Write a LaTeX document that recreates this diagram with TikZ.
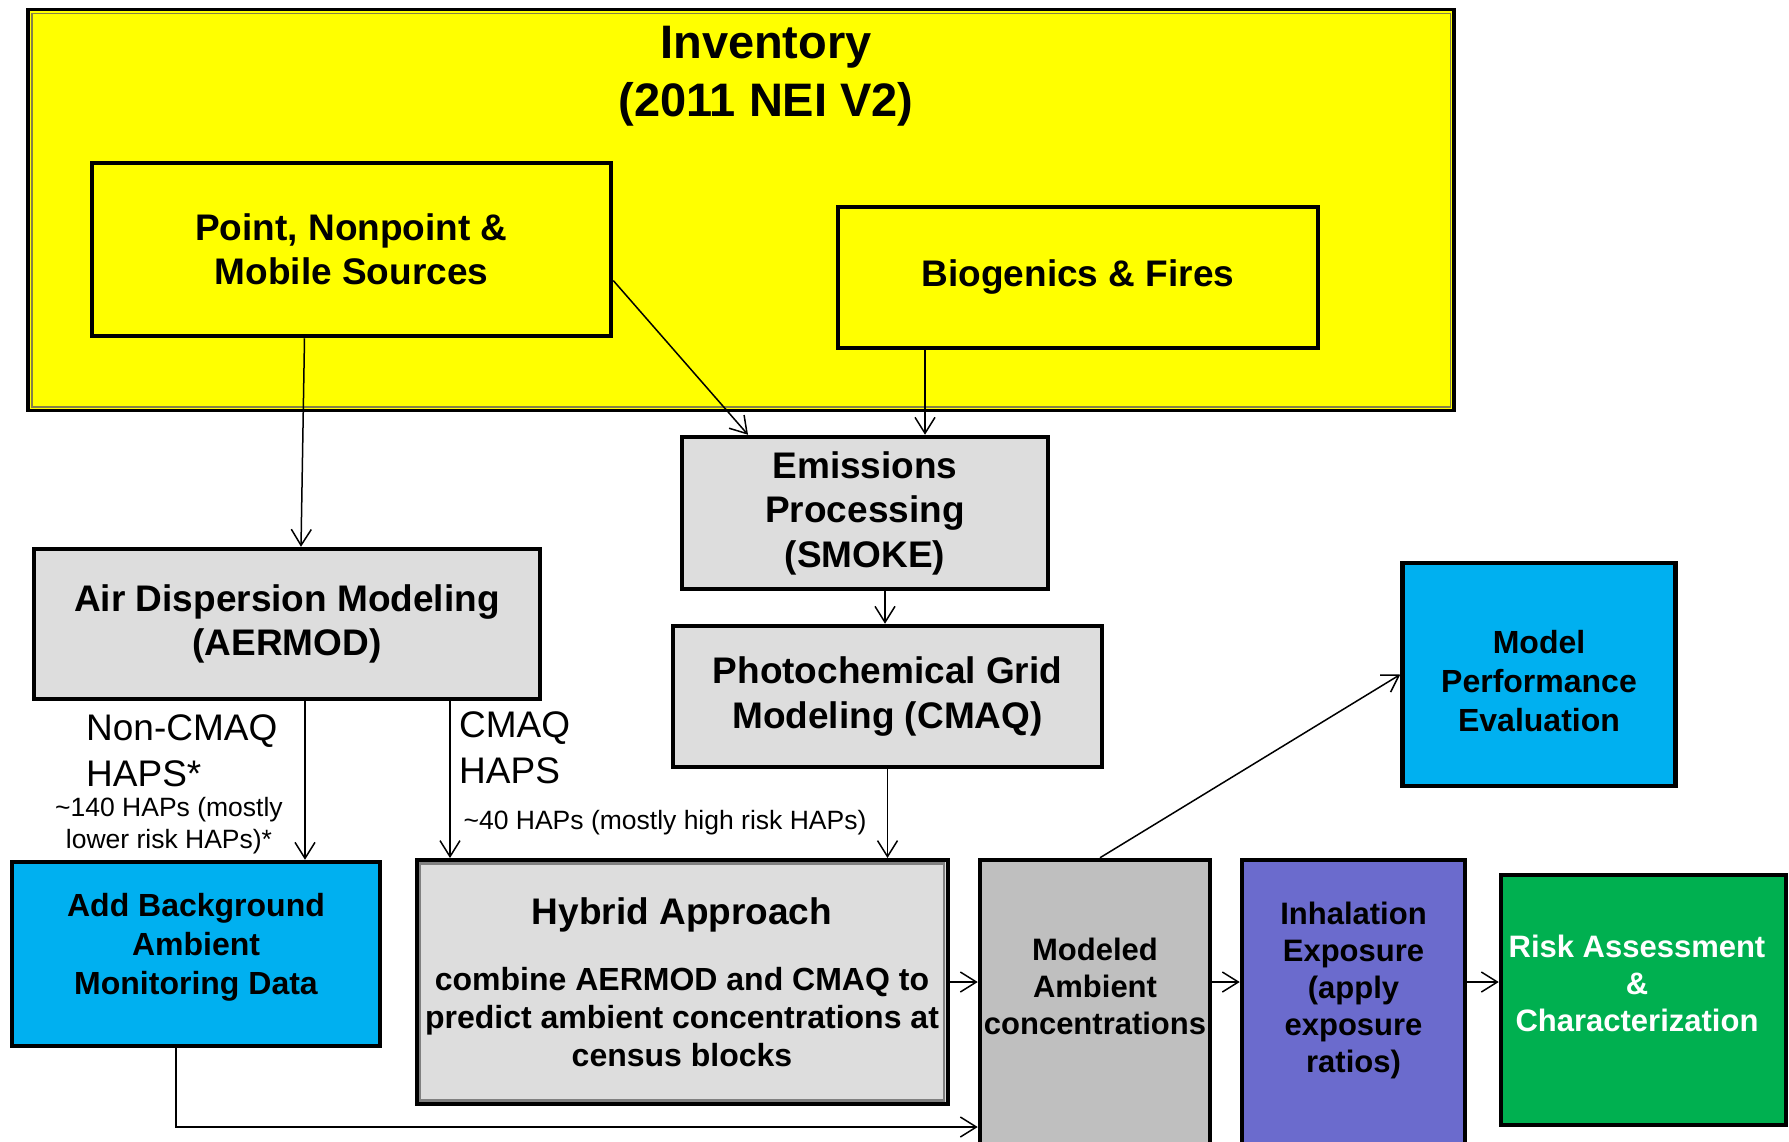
\documentclass[tikz,border=0pt]{standalone}
\usepackage{fontspec}
\setmainfont{Liberation Sans}
\usepackage{tikz}
\usetikzlibrary{positioning,arrows.meta}

\definecolor{invyellow}{HTML}{FFFF00}
\definecolor{boxgray}{HTML}{DDDDDD}
\definecolor{modgray}{HTML}{BFBFBF}
\definecolor{skyblue}{HTML}{00B0F0}
\definecolor{expviolet}{HTML}{6B6BCD}
\definecolor{riskgreen}{HTML}{00B050}
\newcommand{\hybfont}{\fontsize{32}{38}\selectfont}

\begin{document}
\begin{tikzpicture}[x=1pt,y=-1pt,
	box/.style={draw=black,line width=4.5pt,inner sep=0pt,align=center,font=\fontsize{37}{44.5}\selectfont\bfseries},
	bluebox/.style={box,fill=skyblue},
	boxtext/.style={inner sep=0pt,align=center,font=\fontsize{31}{37}\selectfont\bfseries},
	bluetext/.style={inner sep=0pt,align=center,font=\fontsize{32}{39}\selectfont\bfseries},
	haplabel/.style={inner sep=0pt,anchor=west,align=left,font=\fontsize{37}{46}\selectfont},
	hapnote/.style={inner sep=0pt,align=center,font=\fontsize{26.5}{32}\selectfont},
	flow/.style={-{Straight Barb[length=16pt,width=20pt]},line width=1.5pt}]
			\useasboundingbox (0,0) rectangle (1789,1141);
			\clip (0,0) rectangle (1789,1141);

			%inventory
			\node [box, fill=invyellow, line width=3.5pt, minimum width=1426, minimum height=401] (inv) at (741,210) {};
			\draw [black!55!yellow, line width=1.5pt] ([shift={(5.5,5.5)}]inv.north west) rectangle ([shift={(-5.5,-5.5)}]inv.south east);
			\node [inner sep=0pt, align=center, font=\fontsize{47}{58}\selectfont\bfseries] (invtitle) at (766,76.5) {Inventory\\(2011 NEI V2)};
			\node [box, fill=invyellow, minimum width=519, minimum height=173] (pt) at (351.5,249.5) {Point, Nonpoint \&\\Mobile Sources};
			\node [box, fill=invyellow, minimum width=480, minimum height=141] (bio) at (1078,277.5) {Biogenics \& Fires};

			%models
			\node [box, fill=boxgray, minimum width=366, minimum height=152] (emis) at (865,513) {Emissions\\Processing\\(SMOKE)};
			\node [box, fill=boxgray, minimum width=429, minimum height=141] (photo) at (887.5,696.5) {Photochemical Grid\\Modeling (CMAQ)};
			\node [box, fill=boxgray, minimum width=506, minimum height=150] (air) at (287,624) {Air Dispersion Modeling\\(AERMOD)};
			\node [bluebox, minimum width=368, minimum height=184] (bg) at (196,954) {};
			\node [bluetext] (bgtxt) at (196,947) {Add Background\\Ambient\\Monitoring Data};
			\node [box, fill=boxgray, line width=4pt, minimum width=531, minimum height=244] (hyb) at (682,982) {Hybrid Approach\\[21pt]{\hybfont combine AERMOD and CMAQ to}\\[-6.5pt]{\hybfont predict ambient concentrations at}\\[-6.5pt]{\hybfont census blocks}};
			\draw [gray, line width=2.5pt] ([shift={(5.5,5.5)}]hyb.north west) rectangle ([shift={(-5.5,-5.5)}]hyb.south east);
			\node [bluebox, minimum width=273, minimum height=223] (mpe) at (1539,674.5) {};
			\node [bluetext] (mpetxt) at (1539,681.5) {Model\\Performance\\Evaluation};

			%bottom row
			\node [box, fill=modgray, minimum width=230, minimum height=330] (mod) at (1095,1025) {};
			\node [boxtext] (modtxt) at (1095,986) {Modeled\\Ambient\\concentrations};
			\node [box, fill=expviolet, minimum width=223, minimum height=330] (inh) at (1353.5,1025) {};
			\node [boxtext] (inhtxt) at (1353.5,990) {Inhalation\\Exposure\\(apply\\exposure\\ratios)};
			\node [box, fill=riskgreen, minimum width=285, minimum height=250] (risk) at (1643.5,1000) {};
			\node [boxtext, text=white] (risktxt) at (1637,983.5) {Risk Assessment\\\&\\Characterization};

			%labels
			\node [haplabel] (noncmaq) at (86,751) {Non-CMAQ\\HAPS*};
			\node [hapnote] (noncmaqnote) at (169,826) {\textasciitilde140 HAPs (mostly\\lower risk HAPs)*};
			\node [haplabel] (cmaq) at (459,748) {CMAQ\\HAPS};
			\node [hapnote] (cmaqnote) at (665,823) {\textasciitilde40 HAPs (mostly high risk HAPs)};

			%edges
			\coordinate (bgcorner) at (176,1127);
			\draw [flow] ([xshift=-47pt]pt.south) -- ([xshift=14pt]air.north);
			\draw [flow] ([yshift=-31pt]pt.east) -- ([xshift=-117pt]emis.north);
			\draw [flow] ([xshift=-153pt]bio.south) -- ([xshift=-153pt]bio.south |- emis.north);
			\draw [flow] ([xshift=20pt]emis.south) -- ([xshift=20pt]emis.south |- photo.north);
			\draw [flow] (photo.south) -- (photo.south |- hyb.north);
			\draw [flow] ([xshift=18pt]air.south) -- ([xshift=18pt]air.south |- bg.north);
			\draw [flow] ([xshift=163pt]air.south) -- ([xshift=163pt]air.south |- hyb.north);
			\draw [flow] (hyb.east) -- (hyb.east -| mod.west);
			\draw [flow] (hyb.east -| mod.east) -- (hyb.east -| inh.west);
			\draw [flow] (hyb.east -| inh.east) -- (hyb.east -| risk.west);
			\draw [flow] ([xshift=5pt]mod.north) -- (mpe.west);
			\draw [flow] (bgcorner |- bg.south) -- (bgcorner) -- (bgcorner -| mod.west);
		\end{tikzpicture}
\end{document}
